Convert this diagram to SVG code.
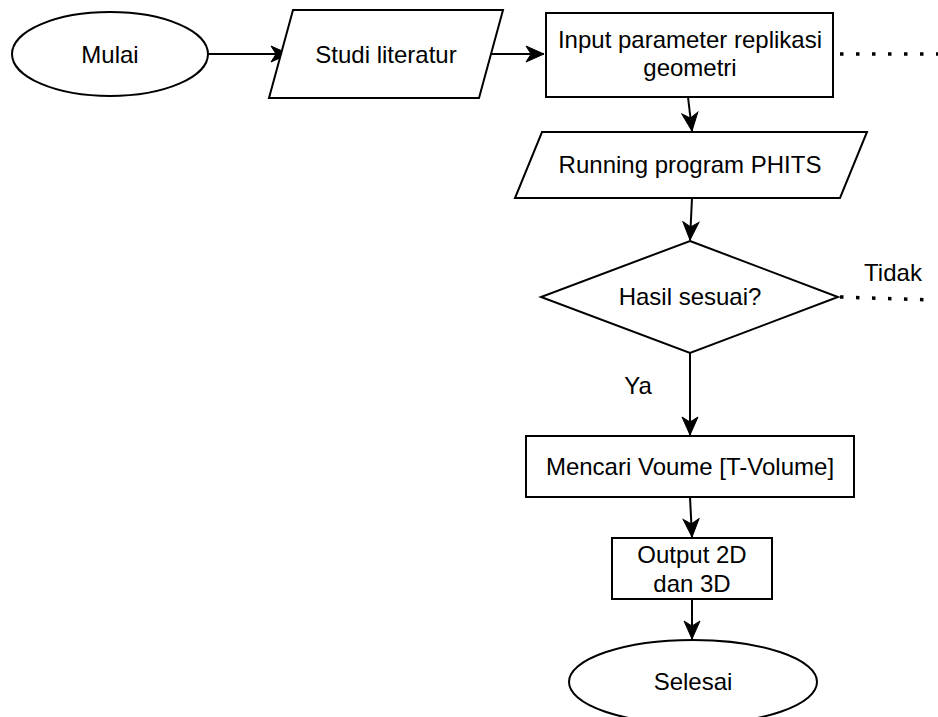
<svg xmlns="http://www.w3.org/2000/svg" width="938" height="717" viewBox="0 0 938 717">
  <style>
    .shape { fill: #ffffff; stroke: #000000; stroke-width: 2; }
    .label { font-family: "Liberation Sans", Arial, sans-serif; font-size: 24px; fill: #000000; text-anchor: middle; }
    .edge { fill: none; stroke: #000000; stroke-width: 2; }
    .dotted { fill: none; stroke: #000000; stroke-width: 3.5; stroke-dasharray: 3.5 12.5; }
  </style>
  <defs>
    <marker id="arrow" viewBox="-19 -9 20 18" markerWidth="20" markerHeight="18" refX="0" refY="0" orient="auto" markerUnits="userSpaceOnUse">
      <path d="M-18,-8 L0,0 L-18,8 L-13,0 Z" fill="#000000" stroke="#000000" stroke-width="1"/>
    </marker>
  </defs>
  <rect width="938" height="717" fill="#ffffff"/>

  <g id="connectors">
    <line class="edge" x1="208" y1="54" x2="289" y2="54" marker-end="url(#arrow)"/>
    <line class="edge" x1="491" y1="54" x2="544" y2="54" marker-end="url(#arrow)"/>
    <line class="edge" x1="688" y1="97" x2="692" y2="131" marker-end="url(#arrow)"/>
    <line class="edge" x1="692" y1="198" x2="690" y2="240" marker-end="url(#arrow)"/>
    <line class="edge" x1="690" y1="353" x2="690" y2="435" marker-end="url(#arrow)"/>
    <line class="edge" x1="690" y1="497" x2="692" y2="537" marker-end="url(#arrow)"/>
    <line class="edge" x1="692" y1="599" x2="692" y2="639" marker-end="url(#arrow)"/>
    <line class="dotted" x1="840" y1="54" x2="938" y2="54"/>
    <line class="dotted" x1="840" y1="297" x2="932" y2="300"/>
    <text class="label" x="893" y="281">Tidak</text>
    <text class="label" x="638" y="394">Ya</text>
  </g>

  <g id="mulai">
    <ellipse class="shape" cx="110" cy="54" rx="98" ry="42"/>
    <text class="label" x="110" y="63">Mulai</text>
  </g>

  <g id="studi-literatur">
    <polygon class="shape" points="293,10 503,10 479,98 269,98"/>
    <text class="label" x="386" y="63">Studi literatur</text>
  </g>

  <g id="input-parameter">
    <rect class="shape" x="546" y="13" width="287" height="84"/>
    <text class="label" x="690" y="48">Input parameter replikasi</text>
    <text class="label" x="690" y="76">geometri</text>
  </g>

  <g id="running-program">
    <polygon class="shape" points="542,132 867,132 840,198 515,198"/>
    <text class="label" x="690" y="173">Running program PHITS</text>
  </g>

  <g id="hasil-sesuai">
    <polygon class="shape" points="690,241 838,297 690,353 541,297"/>
    <text class="label" x="690" y="305">Hasil sesuai?</text>
  </g>

  <g id="mencari-volume">
    <rect class="shape" x="526" y="436" width="328" height="61"/>
    <text class="label" x="690" y="475">Mencari Voume [T-Volume]</text>
  </g>

  <g id="output">
    <rect class="shape" x="612" y="538" width="160" height="61"/>
    <text class="label" x="692" y="563">Output 2D</text>
    <text class="label" x="692" y="592">dan 3D</text>
  </g>

  <g id="selesai">
    <ellipse class="shape" cx="693" cy="682" rx="124" ry="42"/>
    <text class="label" x="693" y="690">Selesai</text>
  </g>
</svg>
